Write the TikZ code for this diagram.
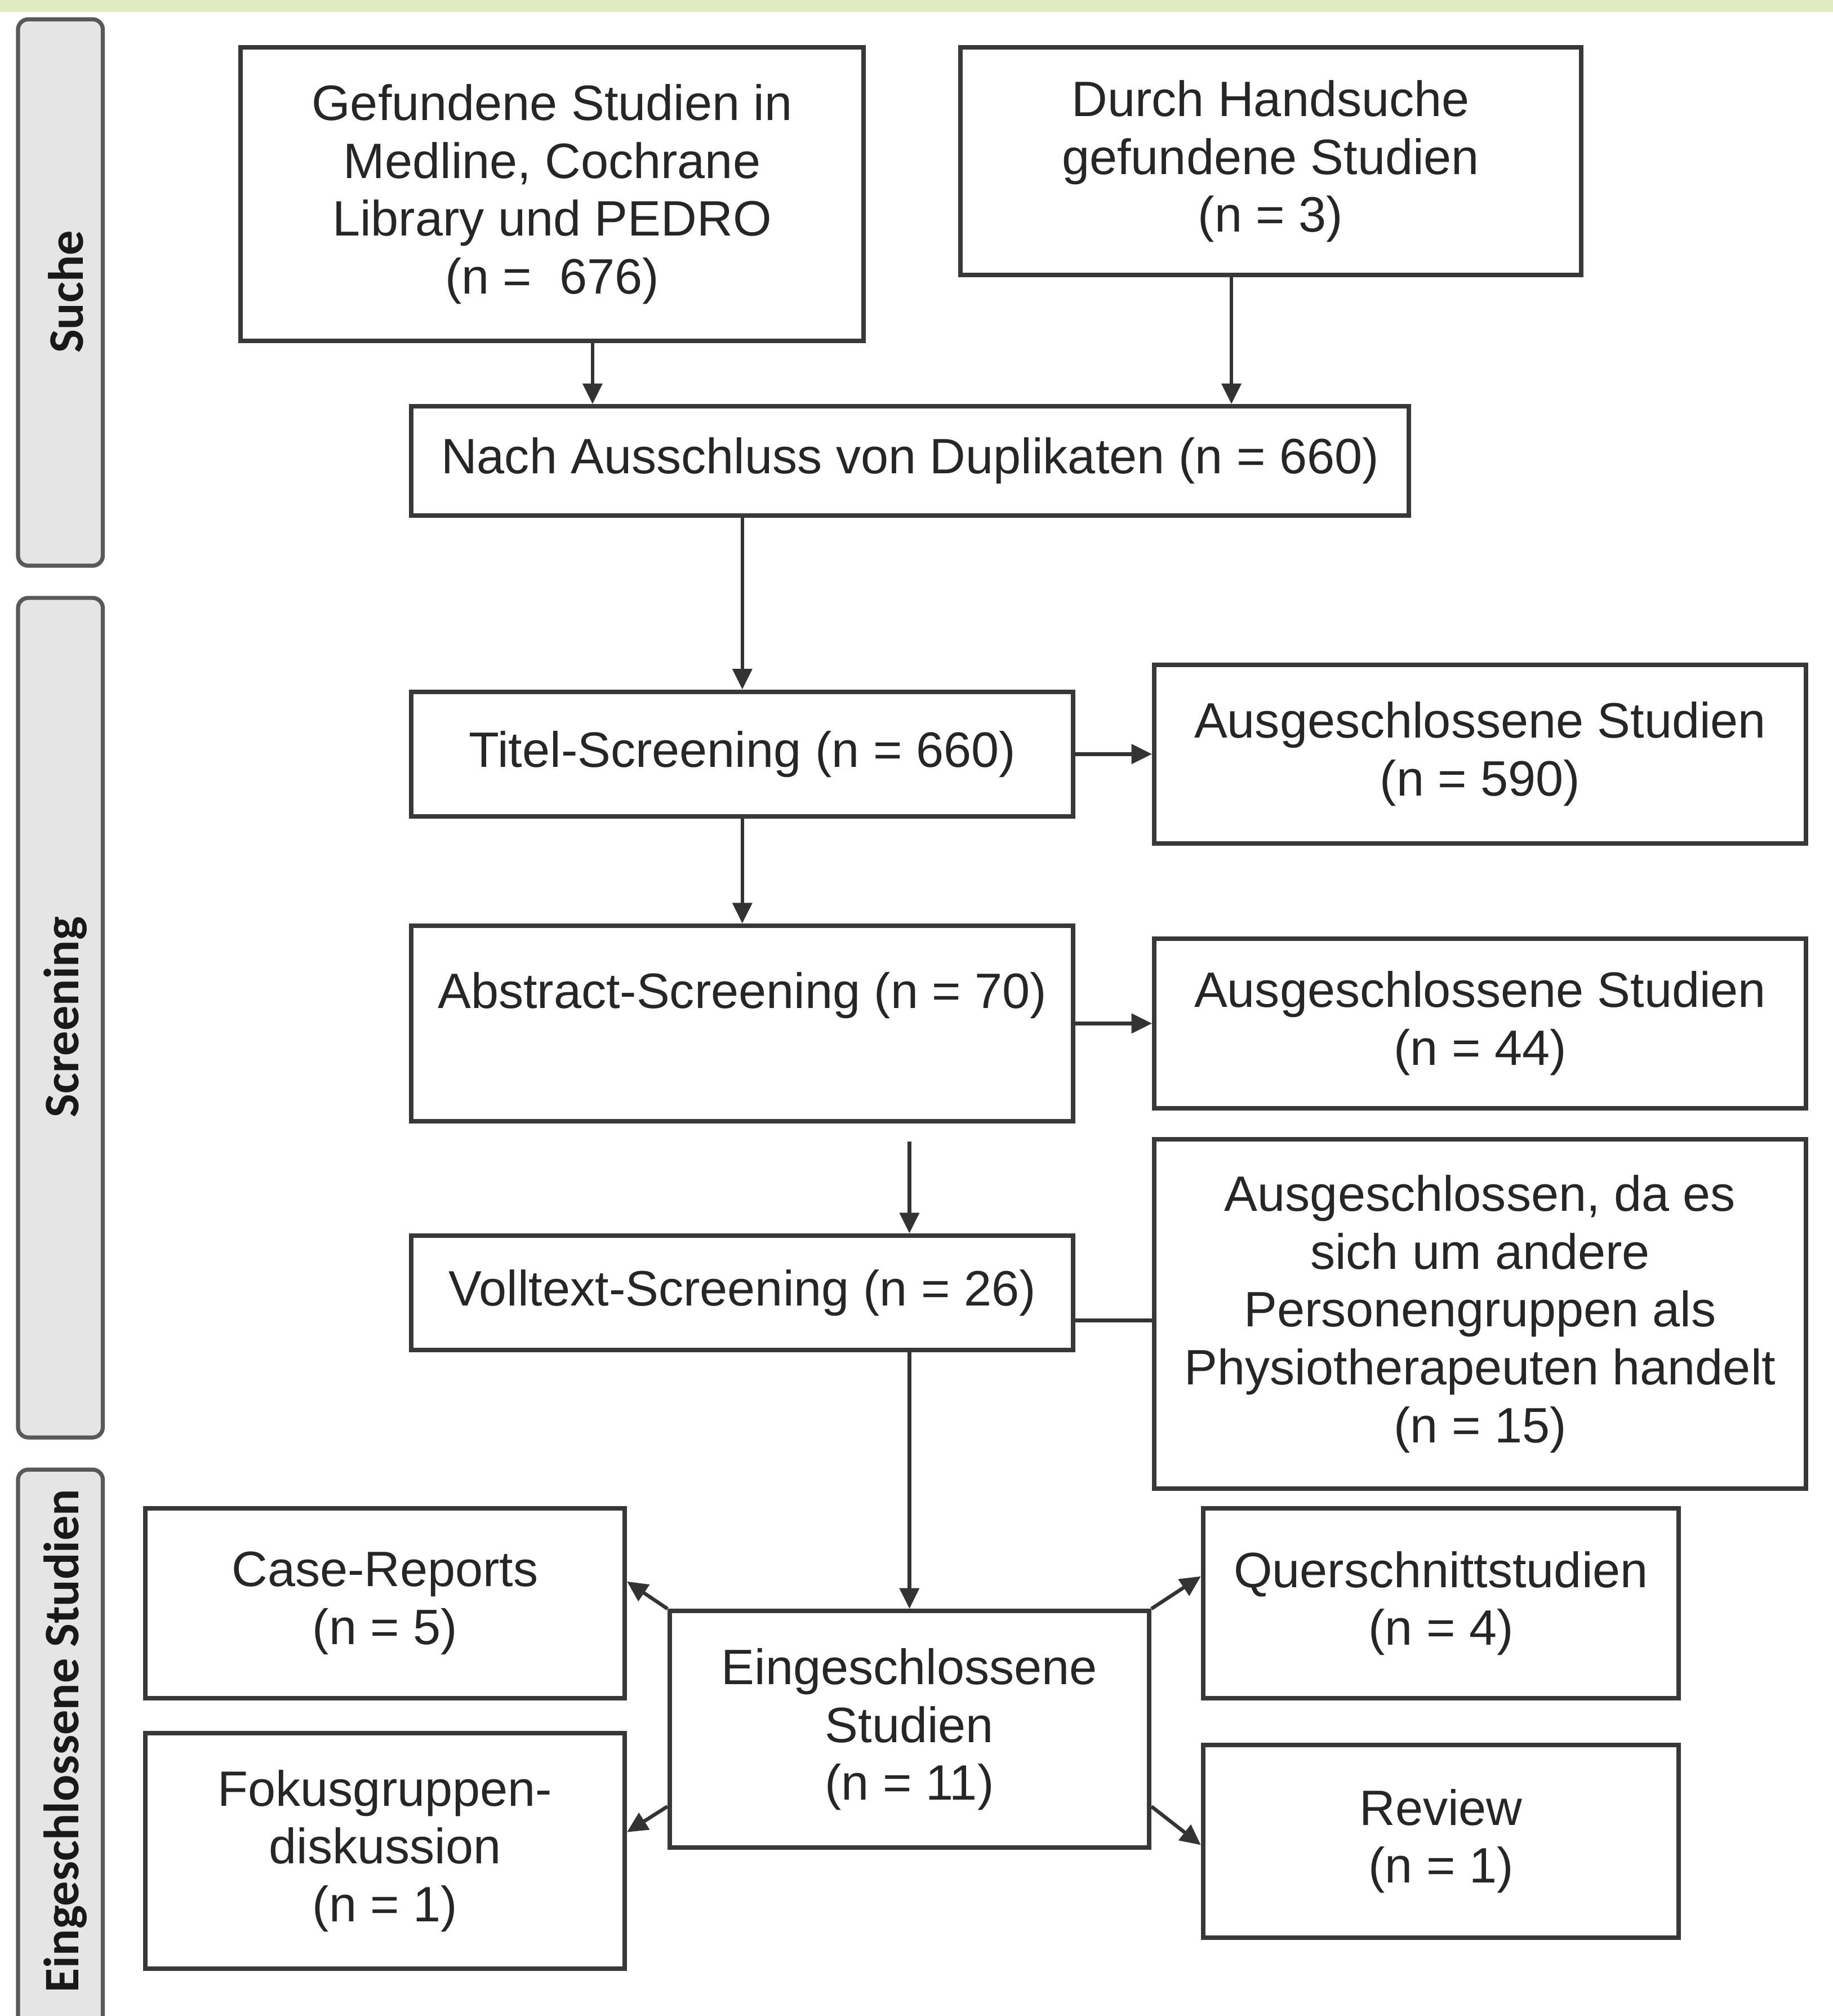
\documentclass[tikz,border=0pt]{standalone}
\usepackage{fontspec}
\setmainfont{Liberation Sans}
\newfontfamily\sidefont{Carlito}
\usetikzlibrary{arrows.meta}

\definecolor{topband}{HTML}{E0ECBF}

\begin{document}
\begin{tikzpicture}[x=0.1mm, y=-0.1mm,
  box/.style={draw=black!78, line width=1pt, fill=white, align=center, inner sep=0pt, text=black!85, font=\fontsize{11}{12.8}\selectfont},
  phase/.style={draw=black!65, line width=0.9pt, fill=black!10, rounded corners=0.8mm},
  phaselabel/.style={rotate=90, font=\sidefont\bfseries\fontsize{11}{13}\selectfont, text=black!90},
  arr/.style={draw=black!80, line width=0.8pt, -{Triangle[length=1.6mm, width=1.5mm]}},
  con/.style={draw=black!80, line width=0.8pt}]

\useasboundingbox (0,0) rectangle (1426,1568);
\clip (0,0) rectangle (1426,1568);
\fill[white] (0,0) rectangle (1426,1568);
\fill[topband] (0,0) rectangle (1426,9);

% phases on the left
\draw[phase] (14,15) rectangle (80,440);
\node[phaselabel] (suche) at (51,227) {Suche};
\draw[phase] (14,465) rectangle (80,1118);
\node[phaselabel] (screen) at (51,791) {Screening};
\draw[phase] (14,1143) rectangle (80,1600);
\node[phaselabel] (einges) at (51,1354) {Eingeschlossene Studien};

% Suche
\node[box, minimum width=48.5mm, minimum height=22.8mm] (find) at (429.5,151) {Gefundene Studien in\\Medline, Cochrane\\Library und PEDRO\\(n = \ 676)};
\node[box, minimum width=48.3mm, minimum height=17.7mm] (hand) at (988.5,125.5) {Durch Handsuche\\gefundene Studien\\(n = 3)};
\node[box, minimum width=77.6mm, minimum height=8.5mm] (dup) at (708,358.5) {Nach Ausschluss von Duplikaten (n = 660)};

% Screening
\node[box, minimum width=51.5mm, minimum height=9.7mm] (title) at (577.5,586.5) {Titel-Screening (n = 660)};
\node[box, minimum width=50.7mm, minimum height=13.9mm] (excl1) at (1151.5,586.5) {Ausgeschlossene Studien\\(n = 590)};
\node[box, minimum width=51.5mm, minimum height=15.2mm] (abs) at (577.5,796) {Abstract-Screening (n = 70)\\[2pt]~};
\node[box, minimum width=50.7mm, minimum height=13.2mm] (excl2) at (1151.5,796) {Ausgeschlossene Studien\\(n = 44)};
\node[box, minimum width=51.5mm, minimum height=8.9mm] (full) at (577.5,1005.5) {Volltext-Screening (n = 26)};
\node[box, minimum width=50.7mm, minimum height=27.2mm] (excl3) at (1151.5,1022) {Ausgeschlossen, da es\\sich um andere\\Personengruppen als\\Physiotherapeuten handelt\\(n = 15)};

% Eingeschlossene Studien
\node[box, minimum width=37.3mm, minimum height=18.4mm] (incl) at (707.5,1345) {Eingeschlossene\\Studien\\(n = 11)};
\node[box, minimum width=37.3mm, minimum height=14.8mm] (case) at (299.5,1247) {Case-Reports\\(n = 5)};
\node[box, minimum width=37.3mm, minimum height=18.3mm] (fokus) at (299.5,1439.5) {Fokusgruppen-\\diskussion\\(n = 1)};
\node[box, minimum width=37mm, minimum height=14.8mm] (quer) at (1121,1247) {Querschnittstudien\\(n = 4)};
\node[box, minimum width=37mm, minimum height=15mm] (review) at (1121,1432) {Review\\(n = 1)};

% connectors
\draw[arr] ([xshift=3.15mm]find.south) -- ([xshift=3.15mm]find.south |- dup.north);
\draw[arr] ([xshift=-3.05mm]hand.south) -- ([xshift=-3.05mm]hand.south |- dup.north);
\draw[arr] (title.north |- dup.south) -- (title.north);
\draw[arr] (title.south) -- (abs.north);
\draw[arr] (title.east) -- (excl1.west);
\draw[arr] (abs.east) -- (excl2.west);
\coordinate (gap) at ([yshift=-1.4mm]abs.south -| incl.north);
\draw[arr] (gap) -- (gap |- full.north);
\draw[con] ([yshift=-0.5mm]excl3.west -| full.east) -- ([yshift=-0.5mm]excl3.west);
\draw[arr] (incl.north |- full.south) -- (incl.north);
\draw[arr] (incl.north west) -- ([yshift=1.7mm]case.east);
\draw[arr] ([yshift=-6mm]incl.west) -- ([yshift=1.45mm]fokus.east);
\draw[arr] (incl.north east) -- ([yshift=2.1mm]quer.west);
\draw[arr] ([yshift=-6mm]incl.east) -- ([yshift=-0.3mm]review.west);

\end{tikzpicture}
\end{document}
